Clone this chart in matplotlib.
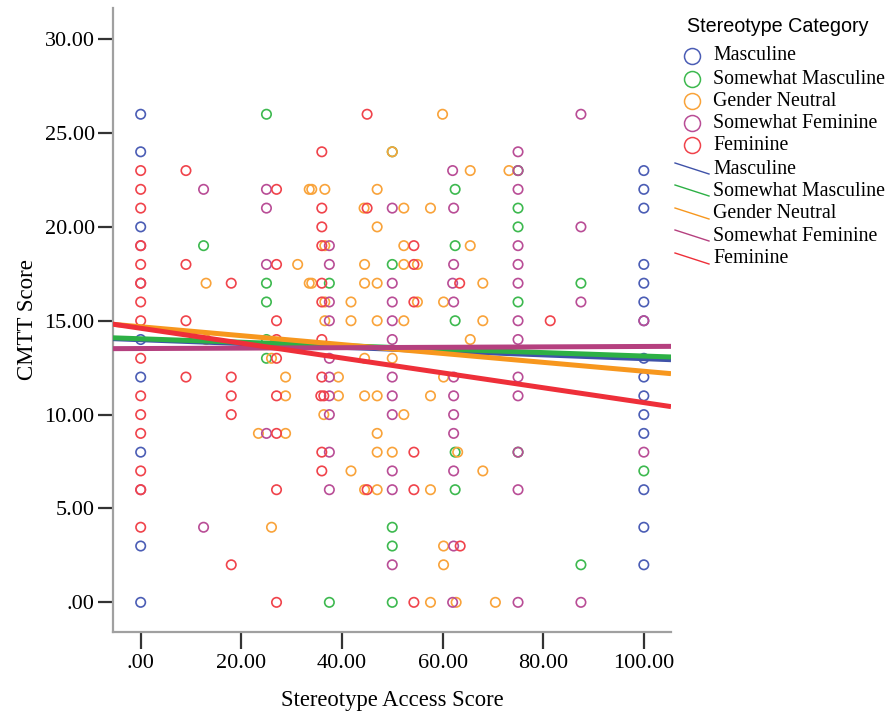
import matplotlib
matplotlib.use('Agg')
import matplotlib.pyplot as plt
from matplotlib.lines import Line2D
import numpy as np

categories = ['Masculine', 'Somewhat Masculine', 'Gender Neutral',
              'Somewhat Feminine', 'Feminine']
point_colors = ['#4B5DB5', '#3DB94F', '#F9A33A', '#B94D96', '#F0434B']
line_colors = ['#3F52A8', '#2DB045', '#F7971E', '#B5407F', '#EE2F39']

# points (x = access score, y = CMTT score)
masc_x = [0, 0, 0, 0, 0, 0, 0, 0,
          100, 100, 100, 100, 100, 100, 100, 100, 100, 100, 100, 100, 100, 100, 100]
masc_y = [26, 24, 20, 14, 12, 8, 3, 0,
          23, 22, 21, 18, 17, 16, 15, 13, 12, 11, 10, 9, 6, 4, 2]

smasc_x = [25, 12.5, 25, 25, 25, 25, 37.5, 50, 62.5, 62.5, 50, 62.5, 62.5, 62.5,
           50, 50, 37.5, 50, 75, 75, 75, 87.5, 87.5, 100, 75, 75]
smasc_y = [26, 19, 17, 16, 13, 14, 17, 24, 22, 19, 18, 15, 8, 6,
           4, 3, 0, 0, 21, 20, 16, 17, 2, 7, 23, 8]

neut_x = [60, 50, 65.5, 34, 36.6, 47, 33.5, 44.4, 52.3, 57.6, 47, 36.6, 52.3, 65.5,
          31.2, 44.5, 52.3, 55, 34, 44.5, 47, 68, 13, 33.5, 36.6, 41.8, 55, 60.2,
          36.6, 41.8, 47, 52.3, 68, 65.5, 13, 44.5, 50, 26, 39.3, 60.2, 28.8, 39.3,
          44.5, 47, 57.6, 28.8, 36.4, 52.3, 47, 23.4, 28.8, 47, 50, 63, 41.8, 68,
          44.5, 47, 57.6, 26, 60.2, 60.2, 57.6, 62.7, 70.5, 73.2]
neut_y = [26, 24, 23, 22, 22, 22, 22, 21, 21, 21, 20, 19, 19, 19,
          18, 18, 18, 18, 17, 17, 17, 17, 17, 17, 16, 16, 16, 16,
          15, 15, 15, 15, 15, 14, 14, 13, 13, 13, 12, 12, 12, 11,
          11, 11, 11, 11, 10, 10, 9, 9, 9, 8, 8, 8, 7, 7,
          6, 6, 6, 4, 3, 2, 0, 0, 0, 23]

sfem_x = [0, 0, 0, 12.5, 12.5, 25, 25, 25, 25,
          37.5, 37.5, 37.5, 37.5, 37.5, 37.5, 37.5, 37.5, 37.5, 37.5,
          50, 50, 50, 50, 50, 50, 50, 50, 50, 50, 50,
          62, 62.2, 62.2, 62, 62.2, 62.2, 62.2, 62.2, 62.2, 62.2, 62.2, 62,
          75, 75, 75, 75, 75, 75, 75, 75, 75, 75, 75, 75, 75,
          87.5, 87.5, 87.5, 87.5, 100, 100]
sfem_y = [19, 17, 6, 22, 4, 22, 21, 18, 9,
          19, 18, 16, 15, 13, 12, 11, 10, 8, 6,
          21, 17, 16, 15, 14, 12, 11, 10, 7, 6, 2,
          23, 21, 18, 17, 16, 12, 11, 10, 9, 7, 3, 0,
          24, 23, 22, 19, 18, 17, 15, 14, 12, 11, 8, 6, 0,
          26, 20, 16, 0, 15, 8]

fem_x = [0, 0, 0, 0, 0, 0, 0, 0, 0, 0, 0, 0, 0, 0, 0,
         9, 9, 9, 9, 18, 18, 18, 18, 18,
         27, 27, 27, 27, 27, 27, 27, 27, 27,
         45, 36, 36, 45, 36, 36, 54.3, 54.3, 36, 63.4, 36, 54.3,
         36, 36, 35.8, 36.4, 36, 54.3, 36, 45, 54.3, 63.5, 54.3, 81.4]
fem_y = [23, 22, 21, 19, 18, 17, 16, 15, 13, 11, 10, 9, 7, 6, 4,
         23, 18, 15, 12, 17, 12, 11, 10, 2,
         22, 18, 15, 14, 13, 11, 9, 6, 0,
         26, 24, 21, 21, 20, 19, 19, 18, 17, 17, 16, 16,
         14, 12, 11, 11, 8, 8, 7, 6, 6, 3, 0, 15]

xs = [masc_x, smasc_x, neut_x, sfem_x, fem_x]
ys = [masc_y, smasc_y, neut_y, sfem_y, fem_y]

# fit lines (intercept, slope)
fit_b0 = [13.99, 14.04, 14.68, 13.52, 14.60]
fit_b1 = [-0.0101, -0.0092, -0.0237, 0.0011, -0.0396]

xticks = [0, 20, 40, 60, 80, 100]
xtick_labels = ['.00', '20.00', '40.00', '60.00', '80.00', '100.00']
yticks = [0, 5, 10, 15, 20, 25, 30]
ytick_labels = ['.00', '5.00', '10.00', '15.00', '20.00', '25.00', '30.00']

serif = ['Liberation Serif', 'DejaVu Serif']
sans = ['Liberation Sans', 'DejaVu Sans']

W, H = 888, 715
fig = plt.figure(figsize=(W / 100, H / 100), dpi=100)
ax = fig.add_axes([112.7 / W, 1 - 632 / H, (671 - 112.7) / W, (632 - 8) / H])

x0, x1 = -5.56, 105.4
for cx, cy, col in zip(xs, ys, point_colors):
    ax.scatter(cx, cy, s=46, facecolors='none', edgecolors=col, linewidths=1.2,
               zorder=2)

xx = np.array([x0, x1])
for b0, b1, col in zip(fit_b0, fit_b1, line_colors):
    ax.plot(xx, b0 + b1 * xx, color=col, lw=3.6, solid_capstyle='butt', zorder=3)

ax.set_xlim(x0, x1)
ax.set_ylim(-1.58, 31.66)
ax.set_xticks(xticks)
ax.set_xticklabels(xtick_labels, family=serif, fontsize=16)
ax.set_yticks(yticks)
ax.set_yticklabels(ytick_labels, family=serif, fontsize=16)
ax.tick_params(direction='out', length=11, width=1.6, color='#333333', pad=2)
ax.tick_params(axis='x', length=12, pad=4)
for s in ['top', 'right']:
    ax.spines[s].set_visible(False)
for s in ['left', 'bottom']:
    ax.spines[s].set_color('#A0A0A0')
    ax.spines[s].set_linewidth(1.6)

ax.set_xlabel('Stereotype Access Score', family=serif, fontsize=16.3, labelpad=12)
ax.set_ylabel('CMTT Score', family=serif, fontsize=16.5, labelpad=5)

# legend drawn by hand, SPSS style
def fx(px):
    return px / W

def fy(py):
    return 1 - py / H

fig.text(fx(686.7), fy(27), 'Stereotype Category', family=sans, fontsize=14.2,
         va='center', ha='left')
circle_rows = [56, 79, 101, 123, 145]
line_rows = [169, 191, 214, 236, 259]
for name, pc, lc, r1, r2 in zip(categories, point_colors, line_colors,
                                circle_rows, line_rows):
    fig.add_artist(Line2D([fx(691.7)], [fy(r1)], marker='o', markersize=11.5,
                          markerfacecolor='none', markeredgecolor=pc,
                          markeredgewidth=1.1, linestyle='none',
                          transform=fig.transFigure))
    fig.text(fx(713), fy(r1), name, family=serif, fontsize=14.3,
             va='center', ha='left')
    fig.add_artist(Line2D([fx(675), fx(709)], [fy(r2 - 6), fy(r2 + 5)],
                          color=lc, lw=1.0, transform=fig.transFigure))
    fig.text(fx(713), fy(r2), name, family=serif, fontsize=14.3,
             va='center', ha='left')

fig.savefig('out.png', dpi=100)
